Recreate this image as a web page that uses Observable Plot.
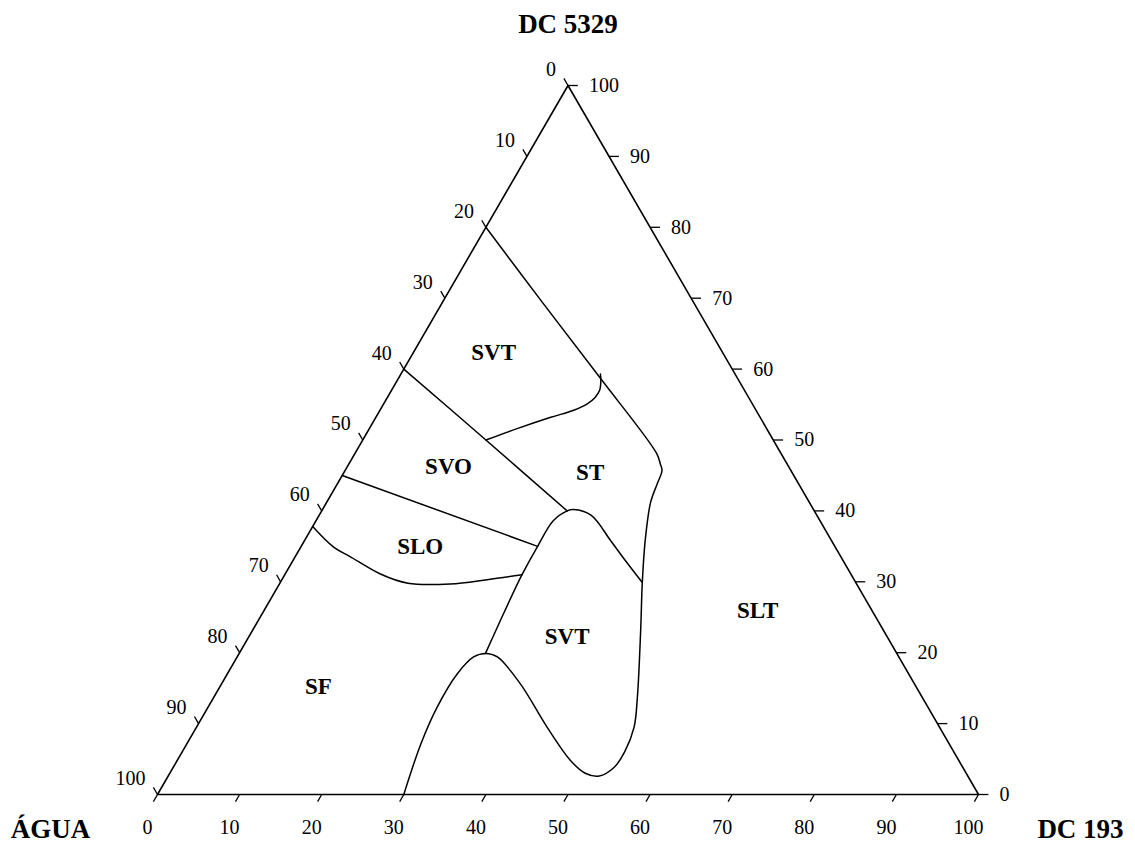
<!DOCTYPE html>
<html>
<head>
<meta charset="utf-8">
<script src="https://cdn.jsdelivr.net/npm/d3@7"></script>
<script src="https://cdn.jsdelivr.net/npm/@observablehq/plot@0.6"></script>
<style>
  html, body { margin: 0; padding: 0; background: #ffffff; }
  svg { display: block; }
</style>
</head>
<body>
<div id="chart"></div>
<script>
// ---------- DATA (ternary compositions, % ; water = 100 - DC193 - DC5329) ----------
const titleTop = "DC 5329";
const titleLeft = "ÁGUA";
const titleRight = "DC 193";

const tickValues = [0, 10, 20, 30, 40, 50, 60, 70, 80, 90, 100];

// phase boundaries as [DC193 %, DC5329 %]
const boundaryA = [ // SVT|SLT line, down the right side, U-shaped bottom and bump to the base
  [0, 80], [12.3, 69.3], [24.6, 58.7], [36.8, 48.05], [37.95, 46.6], [38.6, 45.7],
  [38.96, 43.8], [39.46, 41.2], [41.5, 35.8], [44.1, 29.9], [47.3, 23.1],
  [51.6, 13.7], [53.3, 9.5], [53.9, 6.0], [53.7, 3.8], [52.5, 2.6], [50.6, 3.0],
  [47.9, 4.8], [42.7, 9.5], [36.4, 15.6], [31.7, 19.4], [30.0, 19.9], [28.8, 19.4],
  [28.0, 17.0], [27.9, 12.3], [28.5, 7.2], [30.0, 0]
];
const boundaryB = [[0, 60], [15.0, 50.0], [29.9, 40.0]];           // SVT/SVO | ST
const boundaryC = [                                                  // SVT | ST
  [15.0, 50.0], [18.0, 51.6], [21.3, 53.2], [23.6, 54.2], [24.8, 55.1],
  [25.3, 56.0], [25.35, 57.0], [24.8, 58.4], [24.3, 59.3]
];
const boundaryD = [[0, 45], [28.8, 35.0]];                           // SVO | SLO
const boundaryE = [                                                  // SLO | SF
  [0, 37.8], [4.0, 34.9], [6.6, 33.6], [11.6, 31.1], [15.6, 29.8],
  [20.8, 29.7], [25.0, 30.3], [28.9, 31.0]
];
const boundaryF = [                                                  // lower SVT dome
  [30.0, 19.9], [29.5, 24.5], [29.2, 27.4], [28.9, 31.0], [28.8, 35.0],
  [28.9, 38.6], [29.9, 40.0], [30.6, 40.2], [33.1, 39.4], [37.3, 35.8],
  [40.6, 32.9], [44.1, 29.9]
];

const regionNames = ["SVT", "SVO", "ST", "SLO", "SVT", "SLT", "SF"];
const regionDC193 = [9.8, 12.3, 30.0, 14.5, 38.8, 60.1, 12.0];
const regionDC5329 = [62.3, 46.3, 45.4, 35.0, 22.2, 26.0, 15.2];

// ---------- ternary -> cartesian (x = DC193 + DC5329/2, y = DC5329) ----------
const tx = (b, c) => b + c / 2;

const boundaries = [
  ["A", boundaryA], ["B", boundaryB], ["C", boundaryC],
  ["D", boundaryD], ["E", boundaryE], ["F", boundaryF]
].flatMap(([id, pts]) => pts.map(([b, c]) => ({ id, x: tx(b, c), y: c })));

const frame = [[0, 0], [100, 0], [0, 100], [0, 0]].map(([b, c]) => ({ x: tx(b, c), y: c }));

// ticks: bottom (DC 193), left (ÁGUA), right (DC 5329)
const bottomTicks = tickValues.map(v => ({ v, x: tx(v, 0), y: 0, x2: tx(v, 0) - 0.5, y2: -1 }));
const leftTicks = tickValues.map(v => {
  const b = 0, c = 100 - v;
  return { v, x: tx(b, c), y: c, x2: tx(b, c) - 0.5, y2: c + 1 };
});
const rightTicks = tickValues.map(v => {
  const b = 100 - v, c = v;
  return { v, x: tx(b, c), y: c, x2: tx(b, c) + 1.2, y2: c };
});
const allTicks = [...bottomTicks, ...leftTicks, ...rightTicks];

const regions = regionNames.map((name, i) => ({
  name, x: tx(regionDC193[i], regionDC5329[i]), y: regionDC5329[i]
}));

const serif = "'Liberation Serif', 'Times New Roman', Times, serif";

const chart = Plot.plot({
  width: 1135,
  height: 847,
  marginLeft: 157,
  marginRight: 157,
  marginTop: 85,
  marginBottom: 53,
  x: { domain: [0, 100], axis: null },
  y: { domain: [0, 100], axis: null },
  style: { fontFamily: serif, background: "#ffffff", color: "black" },
  marks: [
    Plot.line(frame, { x: "x", y: "y", stroke: "black", strokeWidth: 1.6, strokeLinejoin: "miter" }),
    Plot.link(allTicks, { x1: "x", y1: "y", x2: "x2", y2: "y2", stroke: "black", strokeWidth: 1.3 }),
    Plot.line(boundaries, { x: "x", y: "y", z: "id", curve: "catmull-rom", stroke: "black", strokeWidth: 1.5 }),
    Plot.text(bottomTicks, { x: "x", y: "y", text: d => String(d.v), dx: -10, dy: 33, fontSize: 20, fontFamily: serif, fill: "black", textAnchor: "middle" }),
    Plot.text(leftTicks, { x: "x", y: "y", text: d => String(d.v), dx: -12, dy: -16, fontSize: 20, fontFamily: serif, fill: "black", textAnchor: "end" }),
    Plot.text(rightTicks, { x: "x", y: "y", text: d => String(d.v), dx: 21, dy: 0, fontSize: 20, fontFamily: serif, fill: "black", textAnchor: "start" }),
    Plot.text(regions, { x: "x", y: "y", text: "name", fontSize: 23, fontWeight: "bold", fontFamily: serif, fill: "black" }),
    Plot.text([titleTop], { frameAnchor: "top", lineAnchor: "middle", text: d => d, dy: -61, fontSize: 27, fontWeight: "bold", fontFamily: serif, fill: "black" }),
    Plot.text([titleLeft], { frameAnchor: "bottom-left", lineAnchor: "middle", text: d => d, dx: -107, dy: 35, fontSize: 27, fontWeight: "bold", fontFamily: serif, fill: "black", textAnchor: "middle" }),
    Plot.text([titleRight], { frameAnchor: "bottom-right", lineAnchor: "middle", text: d => d, dx: 102, dy: 35, fontSize: 27, fontWeight: "bold", fontFamily: serif, fill: "black", textAnchor: "middle" })
  ]
});

document.getElementById("chart").appendChild(chart);
</script>
</body>
</html>
